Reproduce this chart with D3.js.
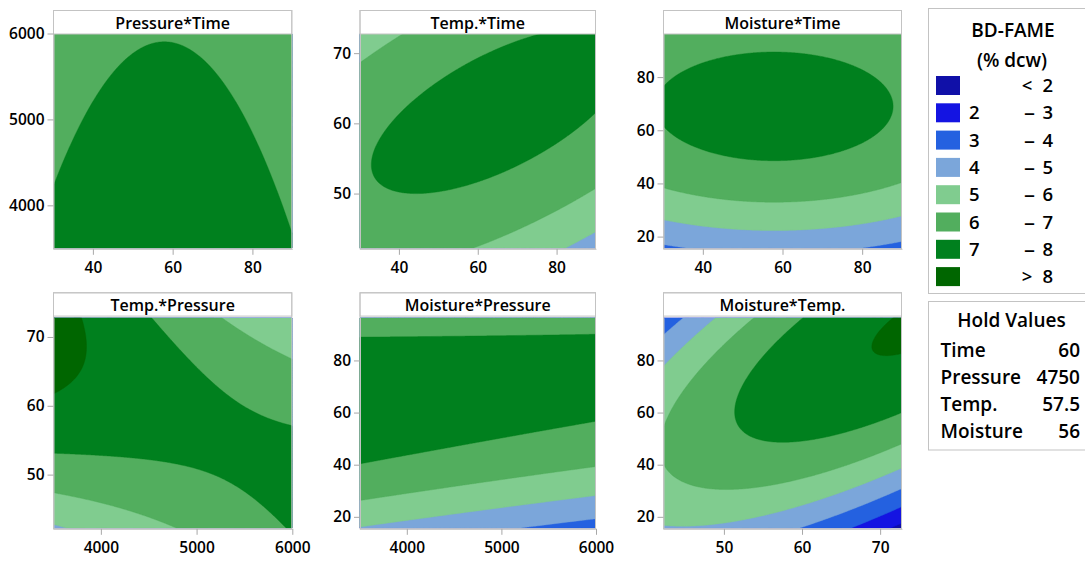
<!DOCTYPE html>
<html>
<head>
<meta charset="utf-8">
<script src="https://cdn.jsdelivr.net/npm/d3@7"></script>
<style>
  body { margin: 0; background: #ffffff; }
  svg text { font-family: "Open Sans", "Noto Sans", sans-serif; fill: #000; font-weight: 600; }
</style>
</head>
<body>
<svg id="chart" width="1085" height="562"></svg>
<script>
// ---------------- DATA ----------------
// Factors of the fitted response-surface model (BD-FAME, % dcw)
const factorNames = ["Time", "Pressure", "Temp.", "Moisture"];
const axisMin = [30, 3500, 42.2, 15.6];
const axisMax = [90, 6000, 72.8, 96.4];
const holdValues = [60, 4750, 57.5, 56];
const holdText = ["60", "4750", "57.5", "56"];

// Full quadratic model in coded units
const intercept = [7.28];
const linearTerms = [-0.067, -0.306, 0.37, 1.19];
const squareTerms = [-0.478, 0.0, -0.95, -1.85];
const interactionTerms = [ // [factor a, factor b, coefficient]
  [0, 1, 0.0], [0, 2, 0.88], [0, 3, 0.0],
  [1, 2, -1.40], [1, 3, 0.40], [2, 3, 2.0]
];

// Panels: title, x factor, y factor
const panelTitles = ["Pressure*Time", "Temp.*Time", "Moisture*Time",
                     "Temp.*Pressure", "Moisture*Pressure", "Moisture*Temp."];
const panelXFactor = [0, 0, 0, 1, 1, 2];
const panelYFactor = [1, 2, 3, 2, 3, 3];
const xTickValues = [[40, 60, 80], [40, 60, 80], [40, 60, 80],
                     [4000, 5000, 6000], [4000, 5000, 6000], [50, 60, 70]];
const yTickValues = [[4000, 5000, 6000], [50, 60, 70], [20, 40, 60, 80],
                     [50, 60, 70], [20, 40, 60, 80], [20, 40, 60, 80]];

// Contour levels and legend
const levelBreaks = [2, 3, 4, 5, 6, 7, 8];
const levelColors = ["#1010A8", "#1414E2", "#2461E0", "#7BA6DA",
                     "#80CC8F", "#52AE5E", "#00801E", "#006600"];
const legendLeft = ["", "2", "3", "4", "5", "6", "7", ""];
const legendMid = ["<", "\u2013", "\u2013", "\u2013", "\u2013", "\u2013", "\u2013", ">"];
const legendRight = ["2", "3", "4", "5", "6", "7", "8", "8"];
const legendTitle = ["BD-FAME", "(% dcw)"];

// ---------------- LAYOUT ----------------
const svg = d3.select("#chart");
const colLeft = [53, 359.5, 663];
const colRight = [292.3, 596, 902];
const rowTitleTop = [10, 292.3];
const rowTitleBottom = [33.5, 315.6];
const rowPlotTop = [33.5, 317.7];
const rowPlotBottom = [248.3, 528.3];
const frameColor = "#c3c3c3";
const NX = 240, NY = 216;

const designCenter = axisMin.map((v, k) => (v + axisMax[k]) / 2);
const designHalf = axisMin.map((v, k) => (axisMax[k] - v) / 2);
const toCoded = (k, v) => (v - designCenter[k]) / designHalf[k];

function response(z) {
  let f = intercept[0];
  for (let k = 0; k < z.length; k++) f += linearTerms[k] * z[k] + squareTerms[k] * z[k] * z[k];
  for (const [a, b, c] of interactionTerms) f += c * z[a] * z[b];
  return f;
}

const defs = svg.append("defs");

panelTitles.forEach((title, idx) => {
  const col = idx % 3, row = Math.floor(idx / 3);
  const xf = panelXFactor[idx], yf = panelYFactor[idx];
  const x0 = colLeft[col], x1 = colRight[col];
  const y0 = rowPlotTop[row], y1 = rowPlotBottom[row];
  const xs = d3.scaleLinear().domain([axisMin[xf], axisMax[xf]]).range([x0, x1]);
  const ys = d3.scaleLinear().domain([axisMin[yf], axisMax[yf]]).range([y1, y0]);

  const holdCoded = holdValues.map((v, k) => toCoded(k, v));
  const values = new Array(NX * NY);
  for (let j = 0; j < NY; j++) {
    const yv = ys.invert(y0 + (j + 0.5) / NY * (y1 - y0));
    for (let i = 0; i < NX; i++) {
      const xv = xs.invert(x0 + (i + 0.5) / NX * (x1 - x0));
      const z = holdCoded.slice();
      z[xf] = toCoded(xf, xv);
      z[yf] = toCoded(yf, yv);
      values[j * NX + i] = response(z);
    }
  }
  const contours = d3.contours().size([NX, NY])
    .thresholds([-1e9].concat(levelBreaks))(values);
  const proj = d3.geoTransform({
    point: function (px, py) {
      this.stream.point(x0 + px / NX * (x1 - x0), y0 + py / NY * (y1 - y0));
    }
  });
  const path = d3.geoPath(proj);

  const clipId = "clip" + idx;
  defs.append("clipPath").attr("id", clipId)
    .append("rect").attr("x", x0).attr("y", y0).attr("width", x1 - x0).attr("height", y1 - y0);

  const g = svg.append("g");
  g.append("g").attr("clip-path", `url(#${clipId})`)
    .selectAll("path").data(contours).join("path")
    .attr("d", path)
    .attr("fill", (d, k) => levelColors[k])
    .attr("stroke", (d, k) => levelColors[k])
    .attr("stroke-width", 0.4);

  // frame and title box
  const tTop = rowTitleTop[row], tBot = rowTitleBottom[row];
  g.append("rect").attr("x", x0 + 0.5).attr("y", tTop + 0.5)
    .attr("width", x1 - x0 - 1).attr("height", tBot - tTop)
    .attr("fill", "#fff").attr("stroke", frameColor);
  g.append("rect").attr("x", x0 + 0.5).attr("y", tTop + 0.5)
    .attr("width", x1 - x0 - 1).attr("height", y1 - tTop)
    .attr("fill", "none").attr("stroke", frameColor);
  g.append("text").attr("x", (x0 + x1) / 2).attr("y", tBot - 5)
    .attr("text-anchor", "middle").attr("font-size", 16).text(title);

  // axes
  const ax = g.append("g").attr("transform", `translate(0,${y1 + 0.5})`)
    .call(d3.axisBottom(xs).tickValues(xTickValues[idx]).tickSize(6).tickSizeOuter(0)
      .tickPadding(7).tickFormat(d3.format("d")));
  const ay = g.append("g").attr("transform", `translate(${x0 + 0.5},0)`)
    .call(d3.axisLeft(ys).tickValues(yTickValues[idx]).tickSize(6).tickSizeOuter(0)
      .tickPadding(3).tickFormat(d3.format("d")));
  [ax, ay].forEach(a => {
    a.attr("font-family", null).attr("font-size", null);
    a.select(".domain").attr("stroke", frameColor);
    a.selectAll(".tick line").attr("stroke", "#a8a8a8");
    a.selectAll(".tick text").attr("font-size", 15.5).attr("fill", "#000");
  });
});

// ---------------- LEGEND ----------------
const lg = svg.append("g");
lg.append("rect").attr("x", 928.5).attr("y", 8.5).attr("width", 170).attr("height", 285)
  .attr("fill", "#fff").attr("stroke", frameColor);
lg.append("text").attr("x", 1013).attr("y", 36.5).attr("text-anchor", "middle")
  .attr("font-size", 19).text(legendTitle[0]);
lg.append("text").attr("x", 1012).attr("y", 66.5).attr("text-anchor", "middle")
  .attr("font-size", 19).text(legendTitle[1]);
const rowStep = 27.3, rowStart = 85.5;
levelColors.forEach((c, k) => {
  const cy = rowStart + k * rowStep;
  lg.append("rect").attr("x", 936).attr("y", cy - 9.5).attr("width", 24).attr("height", 19).attr("fill", c);
  lg.append("text").attr("x", 969).attr("y", cy).attr("dy", "0.36em").attr("font-size", 18.5).text(legendLeft[k]);
  const mid = lg.append("text").attr("y", cy).attr("dy", "0.36em")
    .attr("font-size", 18.5).text(legendMid[k]);
  if (legendMid[k] === "\u2013") {
    mid.attr("x", 1024).attr("textLength", 11).attr("lengthAdjust", "spacingAndGlyphs");
  } else {
    mid.attr("x", 1027).attr("text-anchor", "middle");
  }
  lg.append("text").attr("x", 1053).attr("y", cy).attr("dy", "0.36em").attr("text-anchor", "end")
    .attr("font-size", 18.5).text(legendRight[k]);
});

// ---------------- HOLD VALUES ----------------
const hg = svg.append("g");
hg.append("rect").attr("x", 928.5).attr("y", 301.5).attr("width", 170).attr("height", 148.5)
  .attr("fill", "#fff").attr("stroke", frameColor);
hg.append("text").attr("x", 1011.5).attr("y", 327).attr("text-anchor", "middle")
  .attr("font-size", 19).text("Hold Values");
factorNames.forEach((name, k) => {
  const by = 356.5 + k * 27;
  hg.append("text").attr("x", 940.5).attr("y", by).attr("font-size", 19).text(name);
  hg.append("text").attr("x", 1080).attr("y", by).attr("text-anchor", "end")
    .attr("font-size", 19).text(holdText[k]);
});
</script>
</body>
</html>
